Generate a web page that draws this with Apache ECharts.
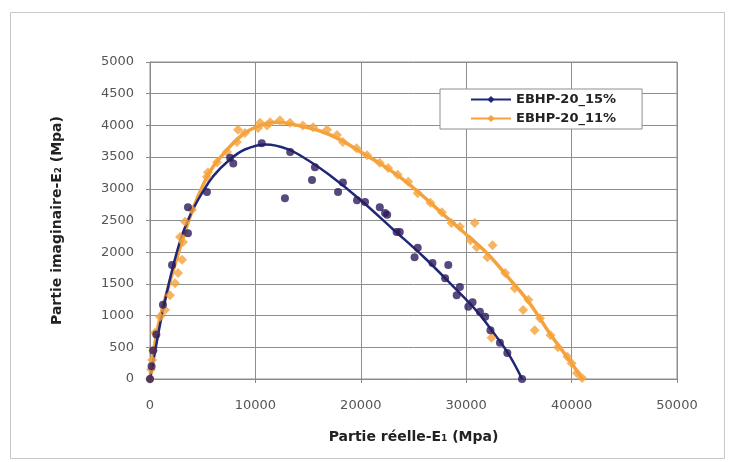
<!DOCTYPE html>
<html>
<head>
<meta charset="utf-8">
<script src="https://cdn.jsdelivr.net/npm/echarts@6/dist/echarts.min.js"></script>
<style>html,body{margin:0;padding:0;background:#fff}#c{width:733px;height:462px}</style>
</head>
<body>
<div id="c"></div>
<script>
// ---- data ----
const seriesNames = ['EBHP-20_15%', 'EBHP-20_11%'];
const xTicks = [0, 10000, 20000, 30000, 40000, 50000];
const yTicks = [0, 500, 1000, 1500, 2000, 2500, 3000, 3500, 4000, 4500, 5000];

// EBHP-20_15% measured points
const pts15 = [[0,0],[150,200],[300,450],[600,700],[1230,1170],[2090,1800],[3600,2300],[3600,2710],[5400,2950],[7600,3490],[7900,3400],[10600,3720],[13300,3580],[15650,3340],[15370,3140],[12800,2850],[18300,3100],[17840,2950],[19640,2820],[20400,2790],[21800,2710],[22500,2590],[22300,2620],[23400,2320],[23700,2320],[25400,2070],[25100,1920],[26800,1830],[28300,1800],[28000,1590],[29400,1450],[29100,1320],[30600,1210],[30200,1140],[31300,1060],[31800,980],[32300,770],[33200,570],[33900,410],[35300,0]];
// EBHP-20_15% fitted curve
const fit15 = [[0,0],[500,450],[1000,900],[2000,1650],[3000,2250],[4000,2650],[5000,2950],[6000,3200],[7500,3450],[9000,3620],[11000,3700],[13000,3630],[15000,3450],[17000,3220],[20000,2820],[23000,2370],[26000,1920],[29000,1420],[31000,1070],[32500,750],[34000,400],[35300,0]];

// EBHP-20_11% measured points
const pts11 = [[0,0],[100,150],[200,300],[300,450],[470,730],[950,980],[1420,1090],[1900,1320],[2370,1510],[2660,1670],[3040,1880],[3130,2160],[2850,2240],[3320,2480],[3990,2670],[5400,3190],[5500,3260],[6360,3420],[7300,3580],[8250,3740],[8350,3930],[9010,3880],[10250,3960],[11100,4000],[10440,4040],[11390,4050],[12330,4080],[13280,4040],[14500,4000],[15470,3970],[16800,3930],[17740,3850],[18300,3740],[19600,3640],[20600,3530],[21800,3410],[22600,3330],[23500,3220],[24500,3110],[25400,2930],[26600,2780],[27700,2630],[28600,2460],[29400,2400],[30800,2460],[30400,2190],[31000,2080],[32500,2110],[32000,1920],[33700,1670],[34600,1430],[35900,1250],[35400,1090],[37000,960],[36500,770],[38000,690],[38700,500],[39600,350],[40000,250],[40500,95],[41000,15],[32400,650]];
// EBHP-20_11% fitted curve
const fit11 = [[0,0],[500,600],[1000,1000],[2000,1600],[3000,2150],[4000,2650],[5000,3050],[6000,3350],[7500,3650],[9000,3880],[10500,4000],[12000,4050],[14000,4000],[16000,3920],[18000,3780],[20000,3580],[22000,3380],[24000,3150],[26000,2870],[28000,2570],[30000,2280],[32000,1980],[34000,1600],[36000,1200],[38000,700],[40000,250],[41000,0]];

// ---- chart ----
const navy = '#1f2878';
const navyDot = '#2c1c5c';
const orange = '#f5a23c';
const FONT = 'DejaVu Sans';

const chart = echarts.init(document.getElementById('c'), null, {renderer: 'canvas'});
chart.setOption({
  animation: false,
  backgroundColor: '#fff',
  textStyle: {fontFamily: FONT},
  graphic: [{
    type: 'rect', left: 8, top: 10, shape: {x: 0, y: 0, width: 714, height: 446},
    style: {fill: 'none', stroke: '#c8c8c8', lineWidth: 1}, z: -1
  }],
  grid: {left: 150, top: 62, width: 527, height: 317, show: true, borderColor: '#8e8e8e', borderWidth: 1, backgroundColor: '#fff'},
  legend: {
    orient: 'vertical', left: 440, top: 89,
    data: seriesNames,
    itemWidth: 40, itemHeight: 9, itemGap: 6,
    padding: [4, 26, 4, 30],
    borderColor: '#8e8e8e', borderWidth: 1, backgroundColor: '#fff',
    textStyle: {fontFamily: FONT, fontSize: 13, fontWeight: 'bold', color: '#222'}
  },
  xAxis: {
    type: 'value', min: xTicks[0], max: xTicks[xTicks.length - 1], interval: xTicks[1] - xTicks[0],
    name: 'Partie réelle-E\u2081 (Mpa)', nameLocation: 'middle', nameGap: 51,
    nameTextStyle: {fontFamily: FONT, fontSize: 14, fontWeight: 'bold', color: '#222'},
    axisLine: {lineStyle: {color: '#8a8a8a'}},
    axisTick: {show: true, length: 4, lineStyle: {color: '#8a8a8a'}},
    axisLabel: {fontFamily: FONT, fontSize: 13, color: '#555', margin: 20, formatter: v => String(v)},
    splitLine: {show: true, lineStyle: {color: '#8e8e8e', width: 1}}
  },
  yAxis: {
    type: 'value', min: yTicks[0], max: yTicks[yTicks.length - 1], interval: yTicks[1] - yTicks[0],
    name: 'Partie imaginaire-E\u2082 (Mpa)', nameLocation: 'middle', nameGap: 86, nameRotate: 90,
    nameTextStyle: {fontFamily: FONT, fontSize: 14, fontWeight: 'bold', color: '#222'},
    axisLine: {show: true, lineStyle: {color: '#8a8a8a'}},
    axisTick: {show: true, length: 4, lineStyle: {color: '#8a8a8a'}},
    axisLabel: {fontFamily: FONT, fontSize: 13, color: '#555', margin: 16, formatter: v => String(v)},
    splitLine: {show: true, lineStyle: {color: '#8e8e8e', width: 1}}
  },
  series: [
    {name: seriesNames[0], type: 'line', data: fit15, smooth: 0.4, showSymbol: false,
     symbol: 'diamond', symbolSize: 8, itemStyle: {color: navy},
     lineStyle: {color: navy, width: 2.5}, z: 3},
    {name: seriesNames[1], type: 'line', data: fit11, smooth: 0.4, showSymbol: false,
     symbol: 'diamond', symbolSize: 9, itemStyle: {color: orange},
     lineStyle: {color: orange, width: 3.5}, z: 2},
    {name: seriesNames[0], type: 'scatter', data: pts15, symbol: 'circle', symbolSize: 8,
     itemStyle: {color: navyDot}, z: 5},
    {name: seriesNames[1], type: 'scatter', data: pts11, symbol: 'diamond', symbolSize: 10,
     itemStyle: {color: orange}, z: 4}
  ]
});
</script>
</body>
</html>
